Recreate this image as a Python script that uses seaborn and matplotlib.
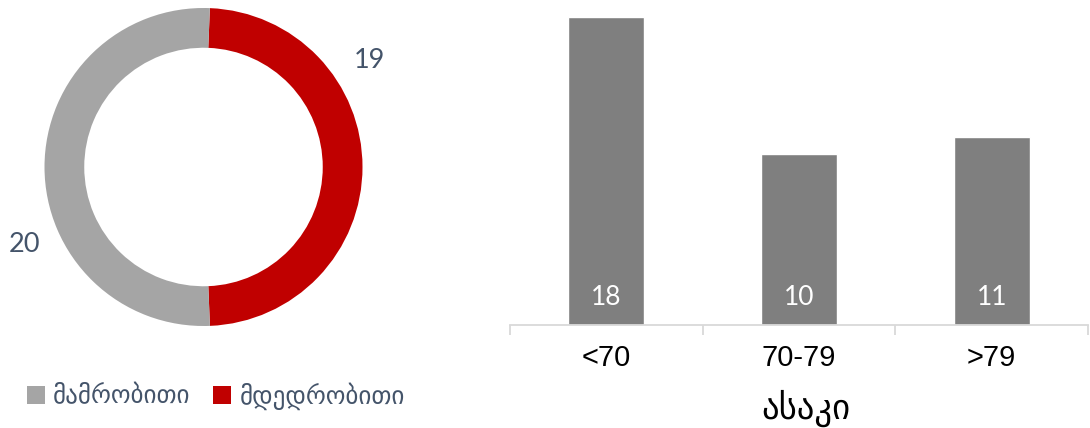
import matplotlib
matplotlib.use("Agg")
import matplotlib.pyplot as plt
from matplotlib.patches import Patch
import seaborn as sns
import pandas as pd

# Sex split (donut)
sex_labels = ["მამრობითი", "მდედრობითი"]
sex_counts = [20, 19]
sex_colors = ["#A5A5A5", "#C00000"]

# Age groups (bars)
age_groups = ["<70", "70-79", ">79"]
age_counts = [18, 10, 11]
age_axis_title = "ასაკი"

TEXT_BLUE = "#44546A"
W, H = 1090, 428

sns.set_theme(style="white")
plt.rcParams["font.family"] = ["DejaVu Sans"]

fig = plt.figure(figsize=(W / 100, H / 100), dpi=100)
fig.patch.set_facecolor("white")

def px_axes(x0, y0, x1, y1):
    """Axes from pixel box (top-left origin)."""
    return fig.add_axes([x0 / W, 1 - y1 / H, (x1 - x0) / W, (y1 - y0) / H])

# ---------- Donut ----------
cx, cy, r = 203.5, 167, 159
axd = px_axes(cx - r, cy - r, cx + r, cy + r)
# red slice first, running clockwise from just right of twelve o'clock
wedges, _ = axd.pie(
    [sex_counts[1], sex_counts[0]],
    colors=[sex_colors[1], sex_colors[0]],
    startangle=87.7,
    counterclock=False,
    radius=1.0,
    wedgeprops=dict(width=0.25, linewidth=0),
)
axd.set_xlim(-1, 1)
axd.set_ylim(-1, 1)
axd.set_aspect("equal")
axd.axis("off")

lbl_font = dict(family=["Lato", "DejaVu Sans"], color=TEXT_BLUE, fontsize=19.5)
axd.text((369 - cx) / r, (cy - 60) / r, str(sex_counts[1]), ha="center", va="center", **lbl_font)
axd.text((25 - cx) / r, (cy - 245) / r, str(sex_counts[0]), ha="center", va="center", **lbl_font)

handles = [Patch(facecolor=c, edgecolor="none") for c in sex_colors]
fig.legend(
    handles, sex_labels,
    loc="center left", bbox_to_anchor=(27 / W, 1 - 396 / H),
    ncol=2, frameon=False, borderpad=0, borderaxespad=0,
    handlelength=0.7, handleheight=0.7, handletextpad=0.35,
    columnspacing=0.9,
    prop=dict(family=["DejaVu Sans"], size=18),
    labelcolor=TEXT_BLUE,
)

# ---------- Bars ----------
axb = px_axes(510, 17, 1088, 325)
df = pd.DataFrame({"group": age_groups, "count": age_counts})
sns.barplot(data=df, x="group", y="count", color="#7F7F7F", saturation=1,
            width=0.394, ax=axb)
axb.set_ylim(0, max(age_counts))
axb.set_xlim(-0.5, len(age_groups) - 0.5)

for i, v in enumerate(age_counts):
    axb.annotate(str(v), xy=(i, 0), xytext=(0, 20), textcoords="offset points",
                 ha="center", va="center", color="white",
                 fontsize=19, family=["Lato", "DejaVu Sans"])

for s in ["top", "right", "left"]:
    axb.spines[s].set_visible(False)
axb.spines["bottom"].set_color("#D9D9D9")
axb.spines["bottom"].set_linewidth(1.3)
axb.set_yticks([])
axb.set_ylabel("")

# tick marks on category boundaries, labels at category centres
n = len(age_groups)
axb.set_xticks([i - 0.5 for i in range(n + 1)])
axb.set_xticklabels([""] * (n + 1))
axb.tick_params(axis="x", which="major", bottom=True, length=7, width=1.3,
                color="#D9D9D9", direction="out")
axb.set_xticks(list(range(n)), minor=True)
axb.set_xticklabels(age_groups, minor=True, family=["Liberation Sans"], fontsize=21, color="black")
axb.tick_params(axis="x", which="minor", bottom=True, length=0, pad=14)

axb.set_xlabel(age_axis_title, family=["DejaVu Sans"], fontsize=25, color="black", va="center")
axb.xaxis.set_label_coords((806 - 510) / 578, (325 - 408) / 308)

fig.savefig("out.png", dpi=100, facecolor="white")
